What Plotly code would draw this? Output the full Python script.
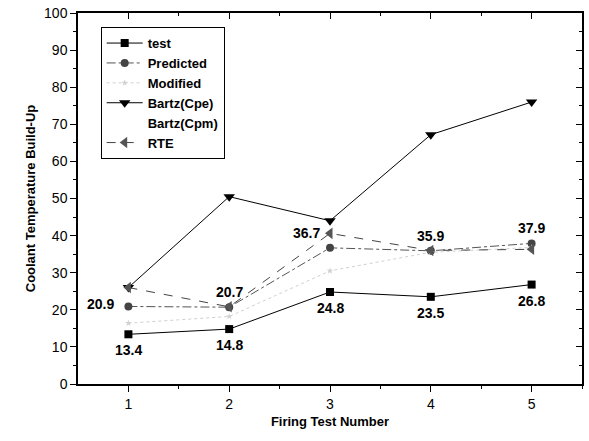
import plotly.graph_objects as go

x = [1, 2, 3, 4, 5]
test = [13.4, 14.8, 24.8, 23.5, 26.8]
predicted = [20.9, 20.7, 36.7, 35.9, 37.9]
modified = [16.4, 18.2, 30.5, 35.5, 36.8]
bartz_cpe = [26.0, 50.5, 44.0, 67.2, 76.0]
bartz_cpm = [None, None, None, None, None]
rte = [26.0, 20.8, 40.6, 36.0, 36.3]

test_labels = ["13.4", "14.8", "24.8", "23.5", "26.8"]
pred_labels = ["20.9", "20.7", "36.7", "35.9", "37.9"]

font = "Liberation Sans, Arial, sans-serif"
fig = go.Figure()

fig.add_trace(go.Scatter(x=x, y=test, name="<b>test</b>", mode="lines+markers",
                         line=dict(color="black", width=1),
                         marker=dict(symbol="square", size=8, color="black")))
fig.add_trace(go.Scatter(x=x, y=predicted, name="<b>Predicted</b>", mode="lines+markers",
                         line=dict(color="#555555", width=1, dash="dashdot"),
                         marker=dict(symbol="circle", size=8, color="#444444")))
fig.add_trace(go.Scatter(x=x, y=modified, name="<b>Modified</b>", mode="lines+markers",
                         line=dict(color="#d0d0d0", width=1, dash="dot"),
                         marker=dict(symbol="star", size=5, color="#d0d0d0")))
fig.add_trace(go.Scatter(x=x, y=bartz_cpe, name="<b>Bartz(Cpe)</b>", mode="lines+markers",
                         line=dict(color="black", width=1),
                         marker=dict(symbol="triangle-down", size=10, color="black")))
fig.add_trace(go.Scatter(x=x, y=bartz_cpm, name="<b>Bartz(Cpm)</b>", mode="lines",
                         line=dict(color="rgba(255,255,255,0)", width=1)))
fig.add_trace(go.Scatter(x=x, y=rte, name="<b>RTE</b>", mode="lines+markers",
                         line=dict(color="#444444", width=1, dash="dash"),
                         marker=dict(symbol="triangle-left", size=10, color="#555555")))

# value labels
for i in range(len(x)):
    fig.add_annotation(x=x[i], y=test[i], text="<b>" + test_labels[i] + "</b>", showarrow=False,
                       yshift=-16, font=dict(family=font, size=14, color="black"))
pred_shift = [(-28, 2), (0, 15), (-24, 15), (0, 15), (0, 15)]
for i in range(len(x)):
    dx, dy = pred_shift[i]
    fig.add_annotation(x=x[i], y=predicted[i], text="<b>" + pred_labels[i] + "</b>", showarrow=False,
                       xshift=dx, yshift=dy, font=dict(family=font, size=14, color="black"))

axis_common = dict(showgrid=False, zeroline=False, linecolor="black", linewidth=1.5,
                   tickcolor="black", ticklen=6, tickwidth=1.2, automargin=False)

fig.update_layout(
    width=589, height=441,
    margin=dict(l=78, r=7, t=13, b=57),
    paper_bgcolor="white", plot_bgcolor="white",
    font=dict(family=font, size=14, color="black"),
    showlegend=True,
    legend=dict(x=0.045, y=0.962, xanchor="left", yanchor="top",
                bordercolor="black", borderwidth=1, bgcolor="white",
                font=dict(family=font, size=13, color="black"),
                tracegroupgap=0, itemwidth=36),
    xaxis=dict(range=[0.5, 5.5], tickvals=[1, 2, 3, 4, 5], ticks="outside",
               minor=dict(tickvals=[1.5, 2.5, 3.5, 4.5, 5.5], ticks="outside", ticklen=3,
                          tickcolor="black"),
               title=dict(text="<b>Firing Test Number</b>", standoff=6,
                          font=dict(family=font, size=13)),
               **axis_common),
    yaxis=dict(range=[0, 100], dtick=10, ticks="outside",
               minor=dict(dtick=5, ticks="outside", ticklen=3, tickcolor="black"),
               title=dict(text="<b>Coolant Temperature Build-Up</b>", standoff=6,
                          font=dict(family=font, size=13)),
               **axis_common),
    xaxis2=dict(range=[0.5, 5.5], overlaying="x", side="top", tickvals=[1, 2, 3, 4, 5],
                ticks="inside", showticklabels=False,
                minor=dict(tickvals=[1.5, 2.5, 3.5, 4.5, 5.5], ticks="inside", ticklen=3,
                           tickcolor="black"),
                **axis_common),
    yaxis2=dict(range=[0, 100], overlaying="y", side="right", dtick=10,
                ticks="inside", showticklabels=False,
                minor=dict(dtick=5, ticks="inside", ticklen=3, tickcolor="black"),
                **axis_common),
)
fig.add_trace(go.Scatter(x=[None], y=[None], xaxis="x2", yaxis="y2", showlegend=False,
                         hoverinfo="skip"))

fig.write_html("out.html", config={"displayModeBar": False},
               post_script="document.body.style.margin='0';")
